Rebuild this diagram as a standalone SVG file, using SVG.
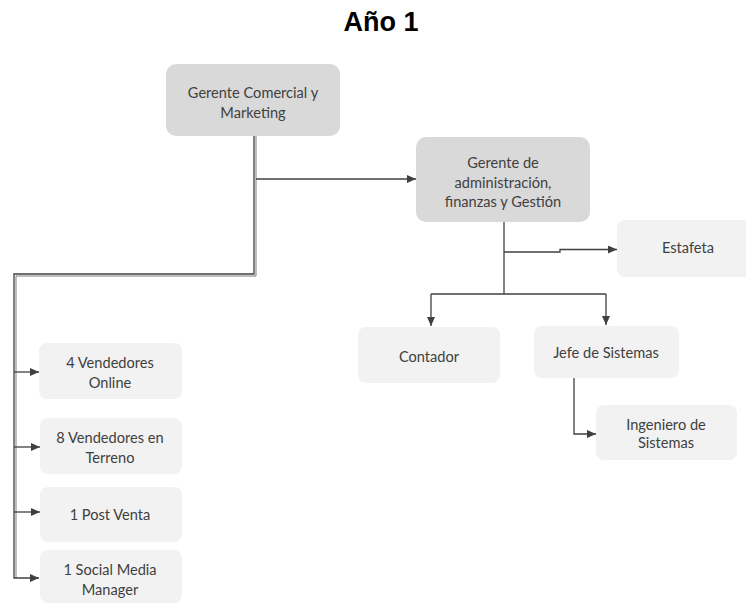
<svg xmlns="http://www.w3.org/2000/svg" width="746" height="605" viewBox="0 0 746 605">
<defs>
<marker id="arr" markerUnits="userSpaceOnUse" markerWidth="10" markerHeight="10" refX="9" refY="4" orient="auto">
<path d="M0,0 L9,4 L0,8 Z" fill="#404040"/>
</marker>
<style>
.dk{fill:#d9d9d9}
.lt{fill:#f2f2f2}
.t{font-family:Lato,"Noto Sans",sans-serif;font-size:14.6px;fill:#404040;text-anchor:middle}
.c{fill:none;stroke:#404040;stroke-width:1.3}
.c2{fill:none;stroke:#7f7f7f;stroke-width:1}
</style>
</defs>
<rect width="746" height="605" fill="#ffffff"/>
<text x="381" y="31" font-family="'Liberation Sans',Arial,sans-serif" font-size="27" font-weight="bold" text-anchor="middle" fill="#000">Año 1</text>

<g id="connectors">
<path class="c2" d="M256,136 V276 H16 V578"/>
<path class="c" d="M254,136 V274 H14 V578 H39" marker-end="url(#arr)"/>
<path class="c" d="M14,372 H39" marker-end="url(#arr)"/>
<path class="c" d="M14,447 H40" marker-end="url(#arr)"/>
<path class="c" d="M14,512 H40" marker-end="url(#arr)"/>
<path class="c" d="M256,179 H416" marker-end="url(#arr)"/>
<path class="c" d="M504,222 V294"/>
<path class="c" d="M504,252 H560 V249.5 H617" marker-end="url(#arr)"/>
<path class="c" d="M431,294 H606"/>
<path class="c" d="M431,294 V326" marker-end="url(#arr)"/>
<path class="c" d="M606,294 V325" marker-end="url(#arr)"/>
<path class="c" d="M574,378 V434 H596" marker-end="url(#arr)"/>
</g>

<g id="gerente-comercial">
<rect class="dk" x="166" y="64" width="174" height="72" rx="10"/>
<text class="t" x="253" y="98">Gerente Comercial y</text>
<text class="t" x="253" y="118">Marketing</text>
</g>
<g id="gerente-admin">
<rect class="dk" x="416" y="137" width="174" height="85" rx="10"/>
<text class="t" x="503" y="168">Gerente de</text>
<text class="t" x="503" y="188">administración,</text>
<text class="t" x="503" y="207">finanzas y Gestión</text>
</g>
<g id="estafeta">
<rect class="lt" x="617" y="220" width="140" height="57" rx="8"/>
<text class="t" x="688" y="253">Estafeta</text>
</g>
<g id="contador">
<rect class="lt" x="358" y="327" width="142" height="56" rx="8"/>
<text class="t" x="429" y="362">Contador</text>
</g>
<g id="jefe-sistemas">
<rect class="lt" x="534" y="326" width="145" height="52" rx="8"/>
<text class="t" x="606" y="358">Jefe de Sistemas</text>
</g>
<g id="ingeniero">
<rect class="lt" x="596" y="405" width="141" height="55" rx="8"/>
<text class="t" x="666" y="430">Ingeniero de</text>
<text class="t" x="666" y="448">Sistemas</text>
</g>
<g id="vendedores-online">
<rect class="lt" x="39" y="343" width="143" height="56" rx="8"/>
<text class="t" x="110" y="368">4 Vendedores</text>
<text class="t" x="110" y="388">Online</text>
</g>
<g id="vendedores-terreno">
<rect class="lt" x="40" y="418" width="142" height="56" rx="8"/>
<text class="t" x="110" y="443">8 Vendedores en</text>
<text class="t" x="110" y="463">Terreno</text>
</g>
<g id="post-venta">
<rect class="lt" x="40" y="487" width="142" height="55" rx="8"/>
<text class="t" x="110" y="520">1 Post Venta</text>
</g>
<g id="social-media">
<rect class="lt" x="40" y="550" width="142" height="53" rx="8"/>
<text class="t" x="110" y="575">1 Social Media</text>
<text class="t" x="110" y="595">Manager</text>
</g>
</svg>
